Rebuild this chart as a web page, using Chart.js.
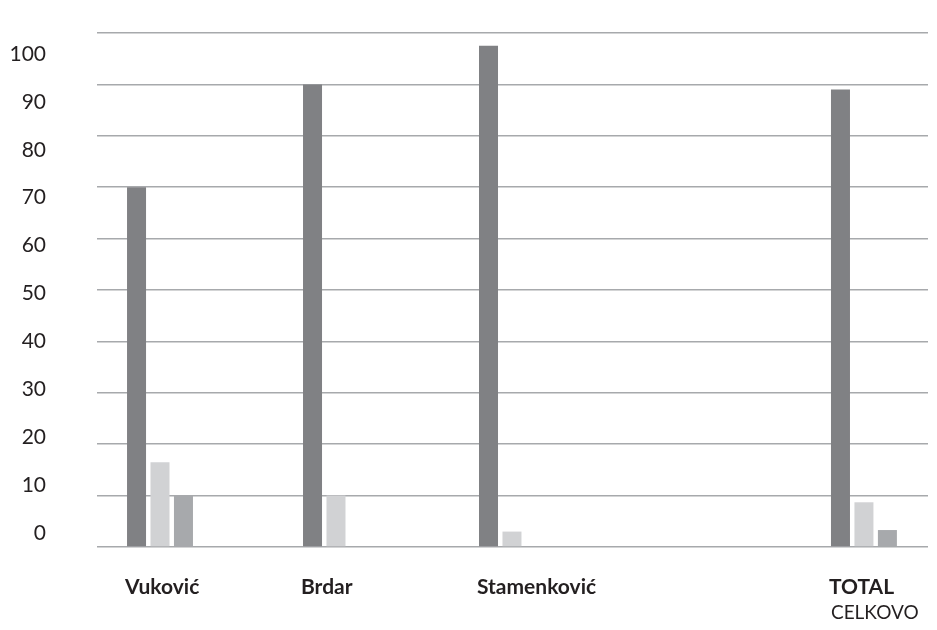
<!DOCTYPE html>
<html>
<head>
<meta charset="utf-8">
<script src="https://cdn.jsdelivr.net/npm/chart.js@4"></script>
<style>
  html, body { margin: 0; padding: 0; background: #fff; }
  #wrap { width: 937px; height: 630px; }
</style>
</head>
<body>
<div id="wrap"><canvas id="chart" width="937" height="630"></canvas></div>
<script>
// ===== data =====
const categories = ['Vuković', 'Brdar', 'Stamenković', '', 'TOTAL'];
const subLabels = ['', '', '', '', 'CELKOVO'];
const seriesA = [70, 90, 97.5, null, 89];
const seriesB = [16.5, 10, 3, null, 8.7];
const seriesC = [10, null, null, null, 3.3];
const yTicks = [0, 10, 20, 30, 40, 50, 60, 70, 80, 90, 100];

const FONT = 'Lato, "Open Sans", sans-serif';
const toPoints = arr => arr.map((v, i) => ({ x: i, y: v }));
const xMin = -0.358, xMax = 4.364;

// scale helpers: fixed sizes, no extra label padding in the layout
const fixH = h => s => { s.height = h; s.paddingLeft = 0; s.paddingRight = 0; };
const fixW = w => s => { s.width = w; s.paddingTop = 0; s.paddingBottom = 0; };

new Chart(document.getElementById('chart'), {
  type: 'bar',
  data: {
    datasets: [
      { data: toPoints(seriesA), backgroundColor: '#808184' },
      { data: toPoints(seriesB), backgroundColor: '#d1d2d4' },
      { data: toPoints(seriesC), backgroundColor: '#a7a9ac' }
    ]
  },
  options: {
    responsive: false,
    animation: false,
    layout: { padding: { top: 33, right: 9, left: 0, bottom: 0 } },
    datasets: { bar: { categoryPercentage: 0.4, barPercentage: 0.81, borderWidth: 0 } },
    plugins: { legend: { display: false }, tooltip: { enabled: false } },
    scales: {
      x: {
        type: 'linear', min: xMin, max: xMax, position: 'bottom', offset: false,
        grid: { display: false, drawTicks: false, offset: false }, border: { display: false },
        afterBuildTicks: s => { s.ticks = categories.map((c, i) => ({ value: i })); },
        afterFit: fixH(54),
        ticks: {
          align: 'start', labelOffset: -35, padding: 28, autoSkip: false, maxRotation: 0,
          color: '#231f20', font: { family: FONT, size: 21, weight: 'bold' },
          callback: v => categories[v] || ''
        }
      },
      x2: {
        type: 'linear', min: xMin, max: xMax, position: 'bottom', offset: false,
        grid: { display: false, drawTicks: false, offset: false }, border: { display: false },
        afterBuildTicks: s => { s.ticks = subLabels.map((c, i) => ({ value: i })); },
        afterFit: fixH(29),
        ticks: {
          align: 'start', labelOffset: -33, padding: 0, autoSkip: false, maxRotation: 0,
          color: '#231f20', font: { family: FONT, size: 19 },
          callback: v => subLabels[v] || ''
        }
      },
      y: {
        min: 0, max: 100, position: 'left',
        grid: { color: '#a7a9ac', lineWidth: 1.6, drawTicks: false }, border: { display: false },
        afterBuildTicks: s => { s.ticks = yTicks.map(v => ({ value: v })); },
        afterFit: fixW(0),
        ticks: { display: false }
      },
      yl: {
        min: -2.923, max: 104.39, position: 'left',
        grid: { display: false, drawTicks: false }, border: { display: false },
        afterBuildTicks: s => { s.ticks = yTicks.map(v => ({ value: v })); },
        afterFit: fixW(97),
        ticks: { padding: 51, color: '#231f20', font: { family: FONT, size: 21 } }
      }
    }
  }
});
</script>
</body>
</html>
